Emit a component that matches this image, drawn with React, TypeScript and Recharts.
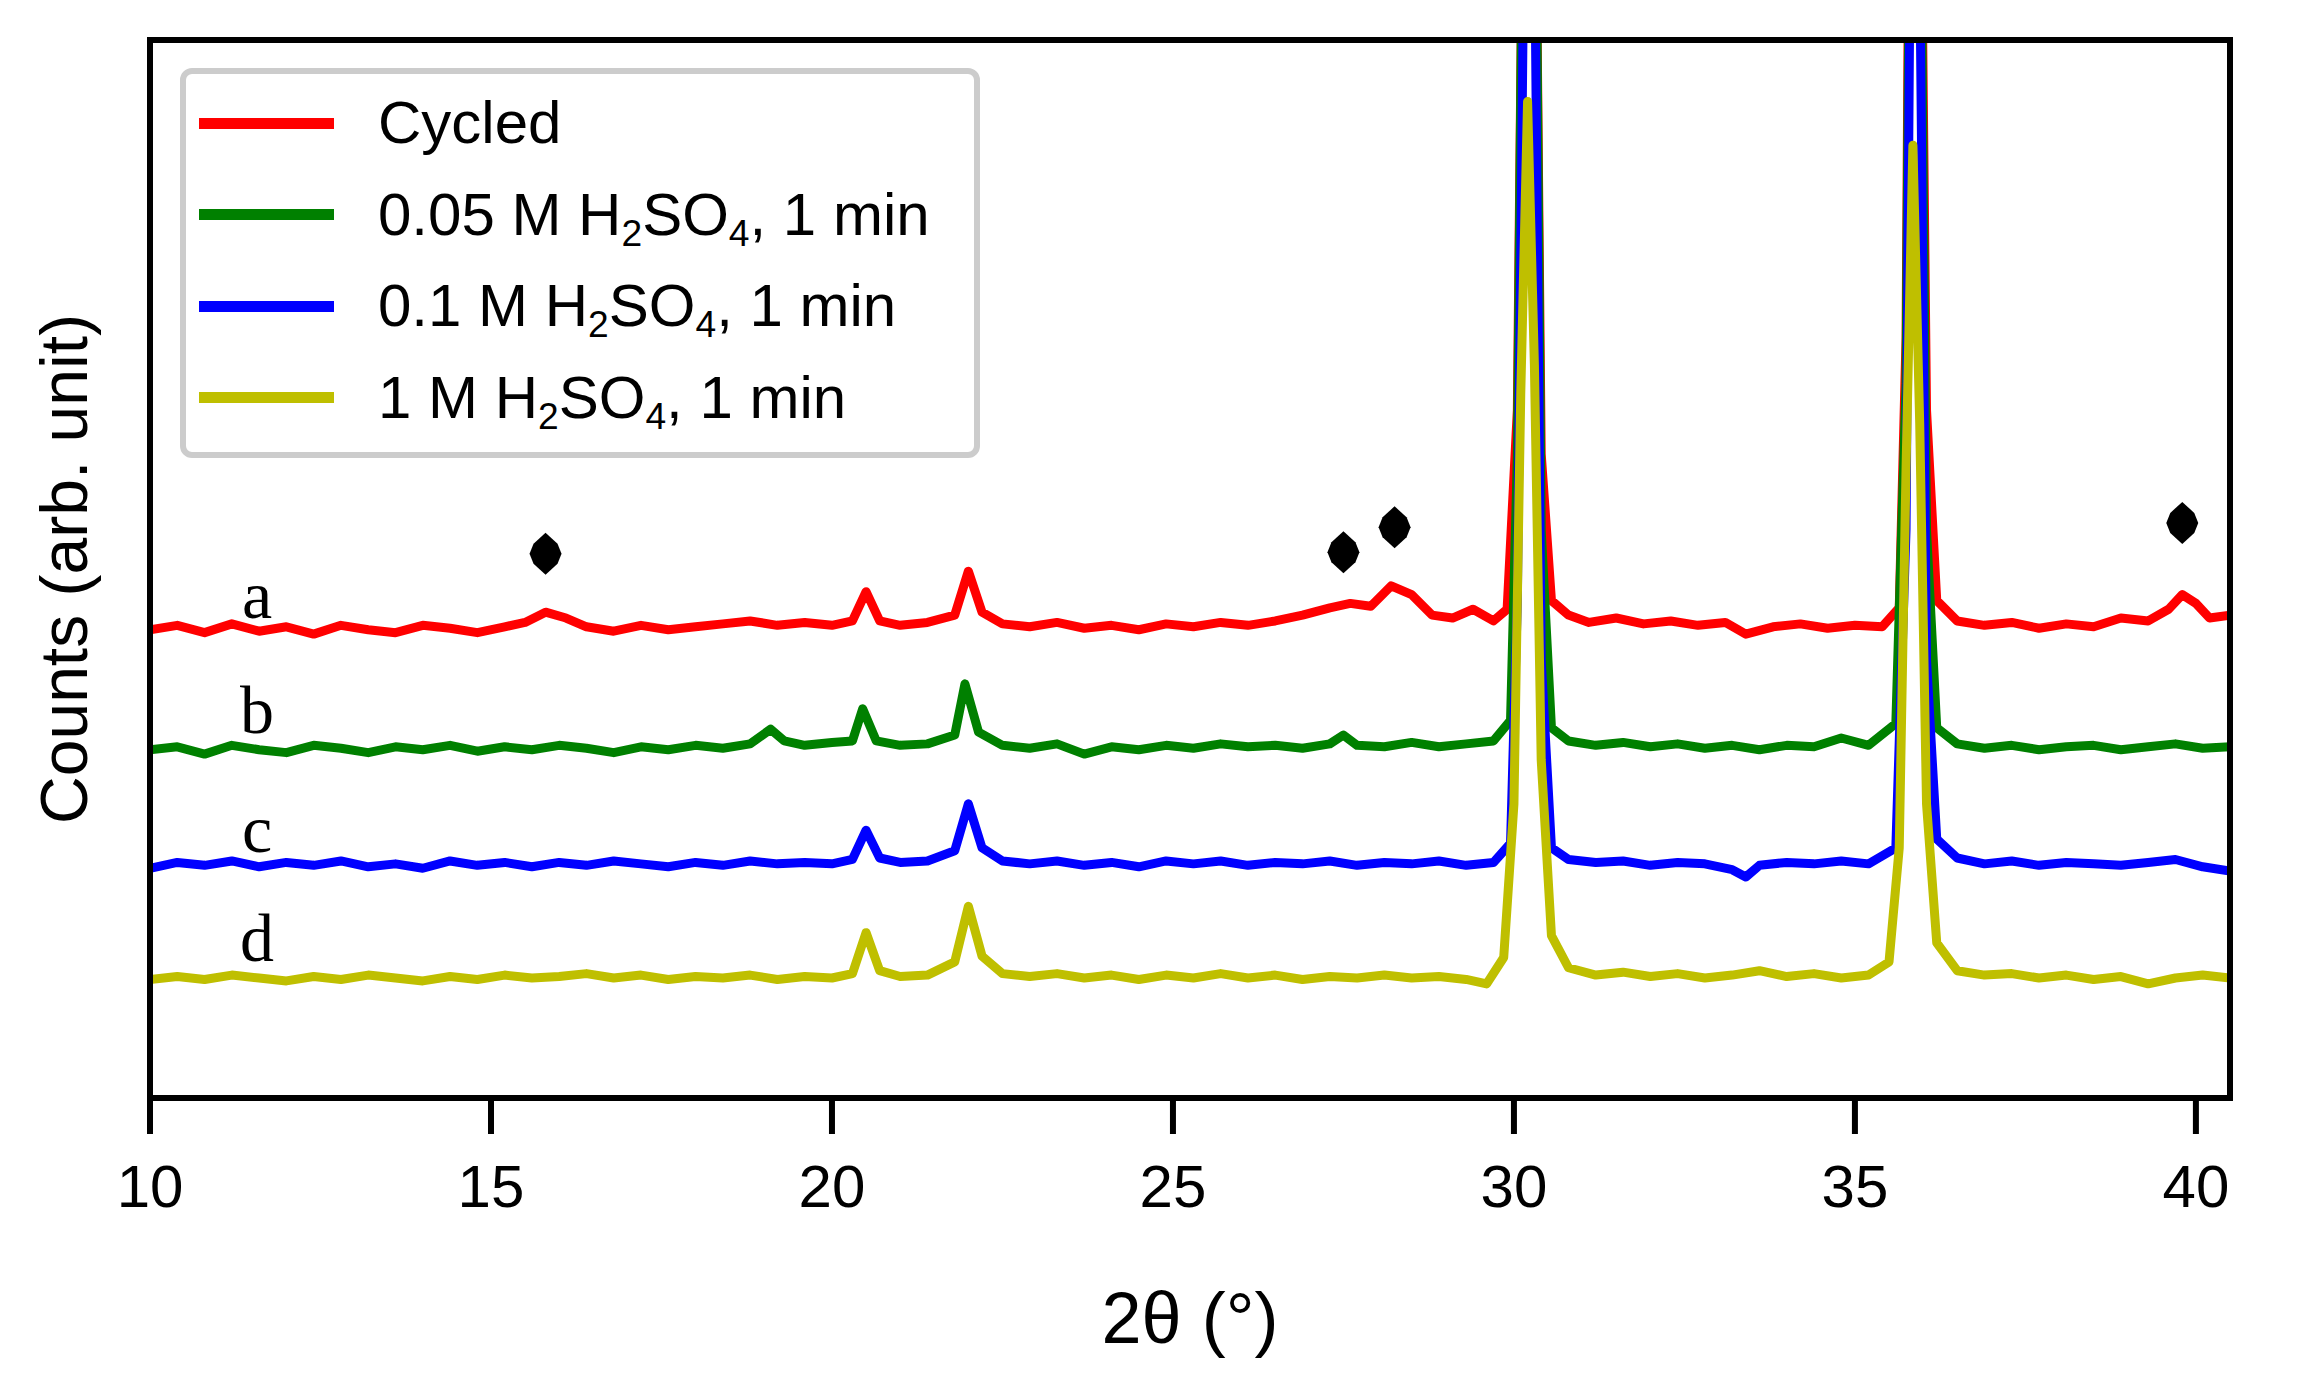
import { LineChart, Line, XAxis, YAxis, Scatter, Label } from "recharts";

const W = 2304;
const H = 1379;
const M = { top: 40, right: 74, left: 0, bottom: 0 };
const XAXIS_H = 281;
const YAXIS_W = 150;

// baseline offsets of the stacked patterns (arb. units)
const offsets = { a: 320, b: 238, c: 159, d: 81 };
const xTicks = [10, 15, 20, 25, 30, 35, 40];

const cycled: [number, number][] = [
  [10, 0], [10.4, 3], [10.8, -2], [11.2, 4], [11.6, -1], [12, 2], [12.4, -3], [12.8, 3], [13.2, 0], [13.6, -2],
  [14, 3], [14.4, 1], [14.8, -2], [15.2, 2], [15.5, 5], [15.8, 12], [16.1, 8], [16.4, 2], [16.8, -1], [17.2, 3],
  [17.6, 0], [18, 2], [18.4, 4], [18.8, 6], [19.2, 3], [19.6, 5], [20, 3], [20.3, 6], [20.5, 26], [20.7, 6],
  [21, 3], [21.4, 5], [21.8, 10], [22, 40], [22.2, 12], [22.5, 4], [22.9, 2], [23.3, 5], [23.7, 1], [24.1, 3],
  [24.5, 0], [24.9, 4], [25.3, 2], [25.7, 5], [26.1, 3], [26.5, 6], [26.9, 10], [27.3, 15], [27.6, 18], [27.9, 16],
  [28.2, 30], [28.5, 24], [28.8, 10], [29.1, 8], [29.4, 14], [29.7, 6], [29.9, 14], [30.05, 150], [30.15, 600], [30.2, 900],
  [30.3, 600], [30.4, 120], [30.55, 20], [30.8, 10], [31.1, 5], [31.5, 8], [31.9, 4], [32.3, 6], [32.7, 3], [33.1, 5],
  [33.4, -3], [33.8, 2], [34.2, 4], [34.6, 1], [35, 3], [35.4, 2], [35.65, 15], [35.75, 200], [35.85, 900], [35.95, 600],
  [36.05, 150], [36.2, 20], [36.5, 6], [36.9, 3], [37.3, 5], [37.7, 1], [38.1, 4], [38.5, 2], [38.9, 8], [39.3, 6],
  [39.6, 14], [39.8, 24], [40, 18], [40.2, 8], [40.5, 10],
];
const acid005: [number, number][] = [
  [10, 0], [10.4, 2], [10.8, -3], [11.2, 3], [11.6, 0], [12, -2], [12.4, 3], [12.8, 1], [13.2, -2], [13.6, 2],
  [14, 0], [14.4, 3], [14.8, -1], [15.2, 2], [15.6, 0], [16, 3], [16.4, 1], [16.8, -2], [17.2, 2], [17.6, 0],
  [18, 3], [18.4, 1], [18.8, 4], [19.1, 14], [19.3, 6], [19.6, 3], [20, 5], [20.3, 6], [20.45, 28], [20.65, 6],
  [21, 3], [21.4, 4], [21.8, 10], [21.95, 45], [22.15, 12], [22.5, 3], [22.9, 1], [23.3, 4], [23.7, -3], [24.1, 2],
  [24.5, 0], [24.9, 3], [25.3, 1], [25.7, 4], [26.1, 2], [26.5, 3], [26.9, 1], [27.3, 4], [27.5, 10], [27.7, 3],
  [28.1, 2], [28.5, 5], [28.9, 2], [29.3, 4], [29.7, 6], [29.95, 20], [30.05, 200], [30.15, 700], [30.2, 900], [30.3, 700],
  [30.4, 150], [30.55, 15], [30.8, 6], [31.2, 3], [31.6, 5], [32, 2], [32.4, 4], [32.8, 1], [33.2, 3], [33.6, 0],
  [34, 3], [34.4, 2], [34.8, 8], [35.2, 3], [35.6, 18], [35.75, 250], [35.85, 900], [35.95, 650], [36.05, 150], [36.2, 15],
  [36.5, 4], [36.9, 1], [37.3, 3], [37.7, 0], [38.1, 2], [38.5, 3], [38.9, 0], [39.3, 2], [39.7, 4], [40.1, 1], [40.5, 2],
];
const acid01: [number, number][] = [
  [10, -2], [10.4, 2], [10.8, 0], [11.2, 3], [11.6, -1], [12, 2], [12.4, 0], [12.8, 3], [13.2, -1], [13.6, 1],
  [14, -2], [14.4, 3], [14.8, 0], [15.2, 2], [15.6, -1], [16, 2], [16.4, 0], [16.8, 3], [17.2, 1], [17.6, -1],
  [18, 2], [18.4, 0], [18.8, 3], [19.2, 1], [19.6, 2], [20, 1], [20.3, 4], [20.5, 24], [20.7, 5], [21, 2],
  [21.4, 3], [21.8, 10], [22, 42], [22.2, 12], [22.5, 3], [22.9, 1], [23.3, 3], [23.7, 0], [24.1, 2], [24.5, -1],
  [24.9, 3], [25.3, 1], [25.7, 3], [26.1, 0], [26.5, 2], [26.9, 1], [27.3, 3], [27.7, 0], [28.1, 2], [28.5, 1],
  [28.9, 3], [29.3, 0], [29.7, 2], [29.95, 15], [30.05, 180], [30.15, 650], [30.2, 900], [30.3, 650], [30.4, 140], [30.55, 12],
  [30.8, 4], [31.2, 2], [31.6, 3], [32, 0], [32.4, 2], [32.8, 1], [33.2, -3], [33.4, -8], [33.6, 0], [34, 2],
  [34.4, 1], [34.8, 3], [35.2, 1], [35.6, 12], [35.75, 230], [35.85, 900], [35.95, 620], [36.05, 140], [36.2, 18], [36.5, 5],
  [36.9, 1], [37.3, 3], [37.7, 0], [38.1, 2], [38.5, 1], [38.9, 0], [39.3, 2], [39.7, 4], [40.1, -1], [40.5, -4],
];
const acid1: [number, number][] = [
  [10, 0], [10.4, 2], [10.8, 0], [11.2, 3], [11.6, 1], [12, -1], [12.4, 2], [12.8, 0], [13.2, 3], [13.6, 1],
  [14, -1], [14.4, 2], [14.8, 0], [15.2, 3], [15.6, 1], [16, 2], [16.4, 4], [16.8, 1], [17.2, 3], [17.6, 0],
  [18, 2], [18.4, 1], [18.8, 3], [19.2, 0], [19.6, 2], [20, 1], [20.3, 4], [20.5, 32], [20.7, 6], [21, 2],
  [21.4, 3], [21.8, 12], [22, 50], [22.2, 16], [22.5, 4], [22.9, 2], [23.3, 4], [23.7, 1], [24.1, 3], [24.5, 0],
  [24.9, 3], [25.3, 1], [25.7, 4], [26.1, 1], [26.5, 3], [26.9, 0], [27.3, 2], [27.7, 1], [28.1, 3], [28.5, 1],
  [28.9, 2], [29.3, 0], [29.6, -3], [29.85, 15], [30, 120], [30.1, 400], [30.2, 600], [30.3, 420], [30.4, 150], [30.55, 30],
  [30.8, 8], [31.2, 3], [31.6, 5], [32, 2], [32.4, 4], [32.8, 1], [33.2, 3], [33.6, 6], [34, 2], [34.4, 4],
  [34.8, 1], [35.2, 3], [35.5, 12], [35.65, 90], [35.75, 350], [35.85, 570], [35.95, 380], [36.05, 120], [36.2, 25], [36.5, 6],
  [36.9, 3], [37.3, 4], [37.7, 1], [38.1, 3], [38.5, 0], [38.9, 2], [39.3, -3], [39.7, 1], [40.1, 3], [40.5, 1],
];

const series = [
  { name: "a", color: "#ff0000", raw: cycled, base: offsets.a },
  { name: "b", color: "#008000", raw: acid005, base: offsets.b },
  { name: "c", color: "#0000ff", raw: acid01, base: offsets.c },
  { name: "d", color: "#bfbf00", raw: acid1, base: offsets.d },
];

const diamonds = [
  { x: 15.8, y: 372 },
  { x: 27.5, y: 373 },
  { x: 28.25, y: 390 },
  { x: 39.8, y: 393 },
];
const letters = [
  { x: 11.57, y: 344, t: "a" },
  { x: 11.57, y: 265, t: "b" },
  { x: 11.57, y: 184, t: "c" },
  { x: 11.57, y: 109, t: "d" },
];

const legendItems: { color: string; label: React.ReactNode }[] = [
  { color: "#ff0000", label: "Cycled" },
  { color: "#008000", label: <>0.05 M H<sub>2</sub>SO<sub>4</sub>, 1 min</> },
  { color: "#0000ff", label: <>0.1 M H<sub>2</sub>SO<sub>4</sub>, 1 min</> },
  { color: "#bfbf00", label: <>1 M H<sub>2</sub>SO<sub>4</sub>, 1 min</> },
];

const font = "'Liberation Sans', Arial, sans-serif";

export default function App() {
  const plotL = M.left + YAXIS_W;
  const plotT = M.top;
  const plotW = W - M.right - plotL;
  const plotH = H - M.bottom - XAXIS_H - plotT;
  return (
    <div style={{ position: "absolute", left: 0, top: 0, width: W, height: H, background: "#fff", fontFamily: font }}>
      <style>{`sub{font-size:0.62em;vertical-align:-0.3em;line-height:0}`}</style>
      <LineChart width={W} height={H} margin={M}>
        <XAxis
          type="number"
          dataKey="x"
          domain={[10, 40.5]}
          ticks={xTicks}
          allowDataOverflow
          stroke="#000"
          strokeWidth={6}
          tickSize={36}
          tickMargin={30}
          tick={{ fill: "#000", fontSize: 60, fontFamily: font }}
          height={XAXIS_H}
        >
          <Label value="2θ (°)" position="insideBottom" offset={36} style={{ fontSize: 72, fill: "#000", fontFamily: font }} />
        </XAxis>
        <YAxis
          type="number"
          domain={[0, 723]}
          allowDataOverflow
          tick={false}
          tickLine={false}
          stroke="#000"
          strokeWidth={6}
          width={YAXIS_W}
        >
          <Label
            content={() => (
              <text x={64} y={plotT + plotH / 2} transform={`rotate(-90 64 ${plotT + plotH / 2})`} textAnchor="middle" dominantBaseline="central" fontSize={66} fontFamily={font} fill="#000">
                Counts (arb. unit)
              </text>
            )}
          />
        </YAxis>
        {series.map((s) => (
          <Line
            key={s.name}
            data={s.raw.map(([x, v]) => ({ x, y: v + s.base }))}
            dataKey="y"
            type="linear"
            stroke={s.color}
            strokeWidth={9}
            strokeLinejoin="round"
            dot={false}
            isAnimationActive={false}
          />
        ))}
        <Scatter data={diamonds} dataKey="y" isAnimationActive={false}
          shape={(p: any) => (
            <path
              d={`M${p.cx},${p.cy - 21} L${p.cx + 12},${p.cy - 10} L${p.cx + 16},${p.cy} L${p.cx + 12},${p.cy + 10} L${p.cx},${p.cy + 21} L${p.cx - 12},${p.cy + 10} L${p.cx - 16},${p.cy} L${p.cx - 12},${p.cy - 10} Z`}
              fill="#000"
            />
          )}
        />
        <Scatter data={letters} dataKey="y" isAnimationActive={false}
          shape={(p: any) => (
            <text x={p.cx} y={p.cy} textAnchor="middle" dominantBaseline="central" fontSize={68} fontFamily="'Liberation Serif', 'DejaVu Serif', serif" fill="#000">
              {p.payload.t}
            </text>
          )}
        />
      </LineChart>
      {/* frame around the plot area */}
      <div style={{ position: "absolute", left: plotL - 3, top: plotT - 3, width: plotW + 6, height: plotH + 6, boxSizing: "border-box", border: "6px solid #000", pointerEvents: "none" }} />
      <div
        style={{
          position: "absolute", left: 180, top: 68, width: 800, height: 390, boxSizing: "border-box",
          border: "6px solid #ccc", borderRadius: 12, background: "rgba(255,255,255,0.9)",
        }}
      >
        {legendItems.map((it, i) => (
          <div key={i} style={{ position: "absolute", left: 13, top: 3 + i * 91.5, display: "flex", alignItems: "center", height: 92 }}>
            <div style={{ width: 135, height: 11, background: it.color, marginRight: 44 }} />
            <span style={{ fontSize: 60, color: "#000", lineHeight: 1, whiteSpace: "nowrap" }}>{it.label}</span>
          </div>
        ))}
      </div>
    </div>
  );
}
